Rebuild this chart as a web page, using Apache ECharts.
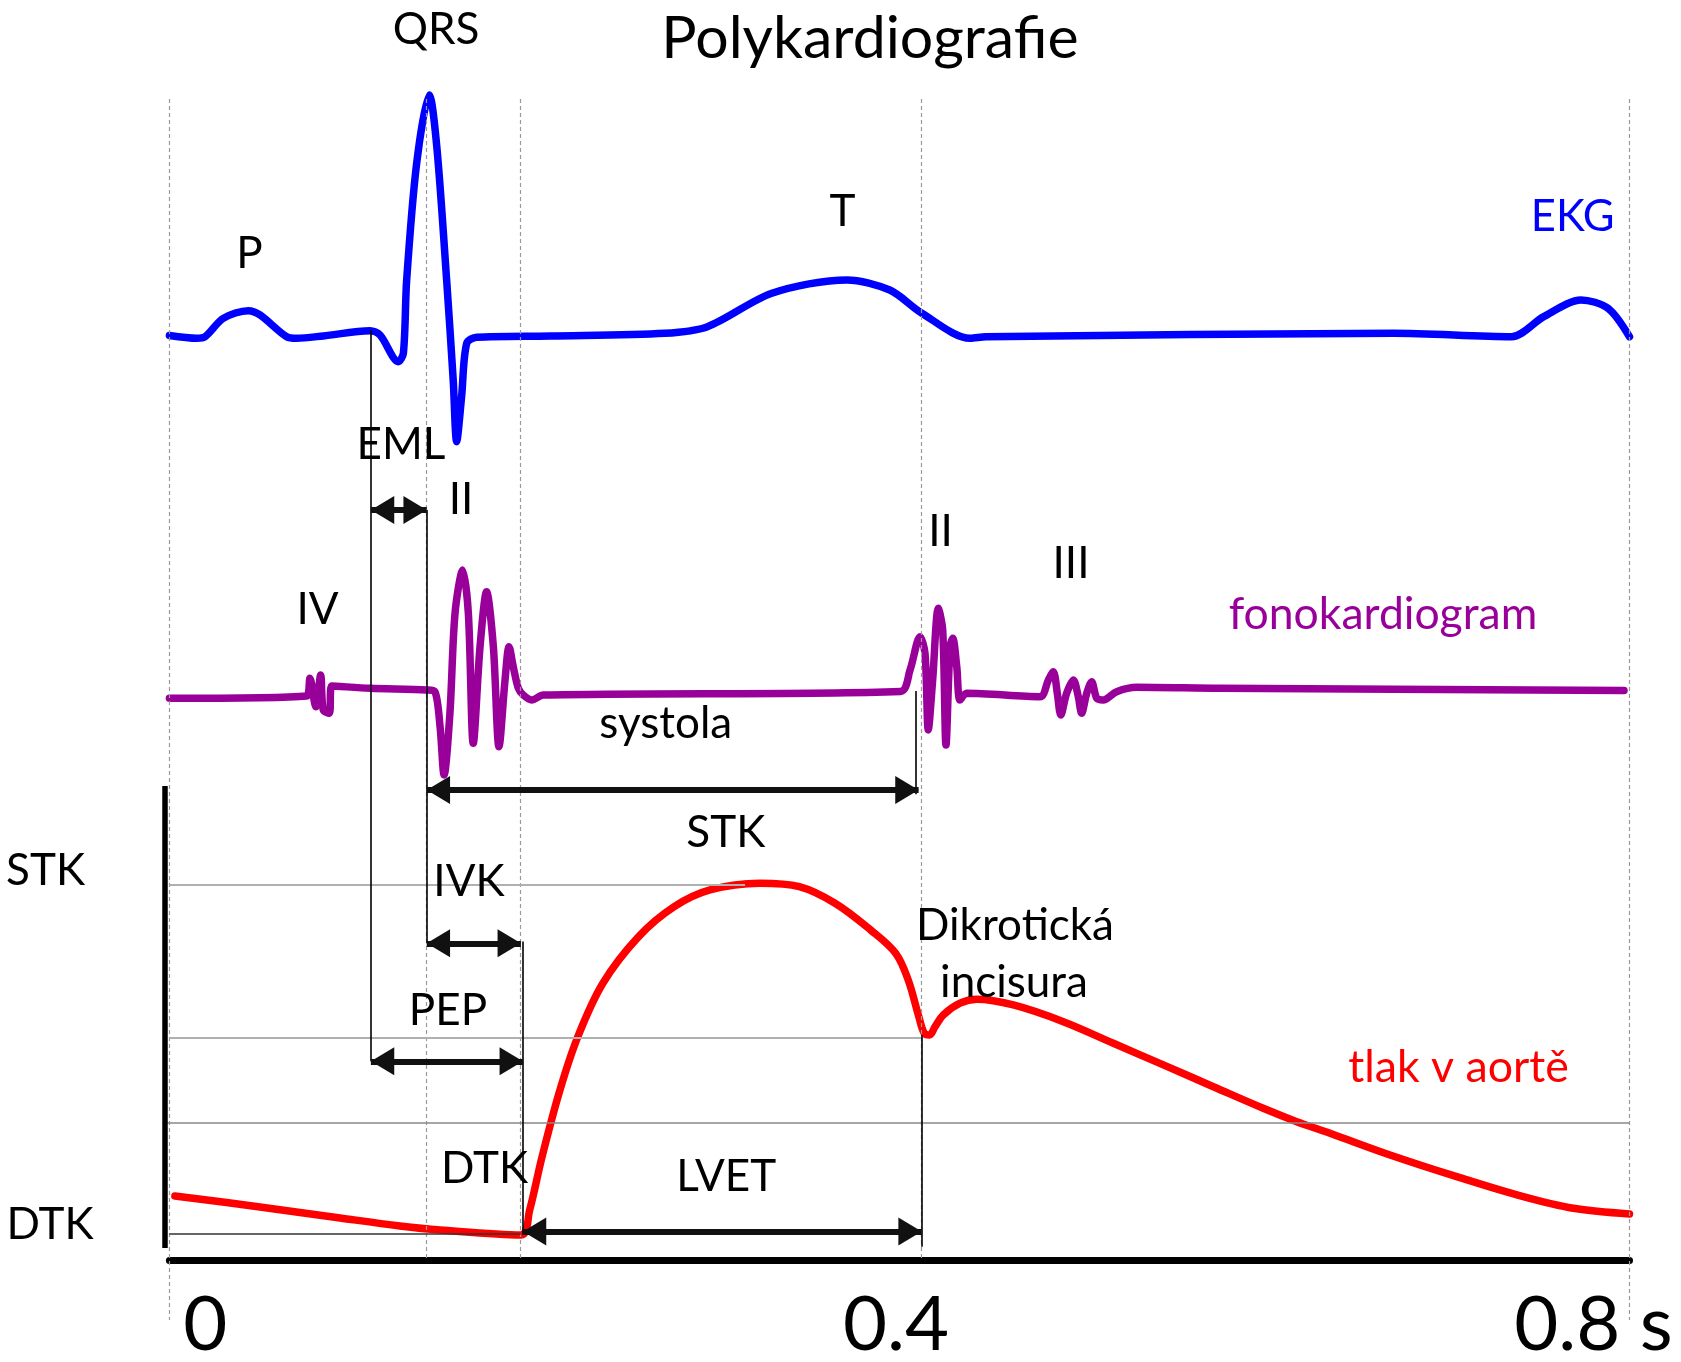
<!DOCTYPE html>
<html><head><meta charset="utf-8">
<style>html,body{margin:0;padding:0;background:#fff}#c{width:1681px;height:1362px}</style>
<script src="https://cdn.jsdelivr.net/npm/echarts@6/dist/echarts.min.js"></script>
</head><body><div id="c"></div>
<script>
// ---------- data (time in s) ----------
const xTicks = [0, 0.4, 0.8];
const xTickLabels = ['0', '0.4', '0.8 s'];

// EKG (mV, arbitrary scale)
const ekgT = [0,0.015,0.0195,0.0295,0.0432,0.0496,0.0643,0.0697,0.0843,0.1099,0.1154,0.1254,0.1282,0.1300,0.1355,0.1424,0.1465,0.1519,0.1555,0.1574,0.1601,0.1629,0.1684,0.2085,0.2713,0.2948,0.3301,0.3712,0.3947,0.4123,0.4387,0.4474,0.6708,0.7354,0.7530,0.7734,0.7882,0.8];
const ekgV = [0,-0.013,-0.006,0.080,0.116,0.096,-0.006,-0.013,-0.002,0.022,0.002,-0.122,-0.083,0.259,0.805,1.122,0.881,0.259,-0.208,-0.495,-0.285,-0.036,-0.008,-0.002,0.010,0.041,0.197,0.259,0.212,0.104,-0.013,-0.006,0.010,-0.006,0.088,0.166,0.127,-0.006];

// Phonocardiogram (arbitrary units)
const pcgT = [0,0.0752,0.0770,0.0802,0.0829,0.0843,0.0876,0.0889,0.1099,0.1410,0.1455,0.1483,0.1505,0.1537,0.1565,0.1607,0.1638,0.1665,0.1702,0.1738,0.1775,0.1806,0.1839,0.1861,0.1884,0.1912,0.1939,0.1985,0.2049,0.4006,0.4058,0.4113,0.4140,0.4158,0.4182,0.4213,0.4237,0.4255,0.4277,0.4292,0.4314,0.4332,0.4368,0.4770,0.4816,0.4843,0.4865,0.4884,0.4916,0.4953,0.4980,0.4998,0.5026,0.5053,0.5081,0.5117,0.5190,0.5300,0.5756,0.797];
const pcgV = [-0.068,-0.045,0.132,-0.152,0.165,-0.185,-0.218,0.055,0.032,0.015,-0.002,-0.352,-0.835,-0.218,0.782,1.215,0.782,-0.518,0.448,0.998,0.448,-0.552,0.115,0.448,0.248,0.032,-0.035,-0.085,-0.035,0.001,0.215,0.548,0.382,-0.385,0.115,0.832,0.615,-0.535,0.448,0.532,0.248,-0.085,-0.018,-0.052,0.115,0.198,-0.018,-0.235,-0.018,0.115,-0.052,-0.218,-0.018,0.098,-0.068,-0.085,-0.002,0.042,0.032,0.011];

// Aortic pressure (mmHg)
const aoT = [0.003,0.0496,0.0935,0.1263,0.1483,0.1926,0.1974,0.2042,0.2140,0.2238,0.2375,0.2571,0.2766,0.2962,0.3236,0.3451,0.3647,0.3842,0.3979,0.4048,0.4106,0.4136,0.4165,0.4195,0.4240,0.4332,0.4423,0.4624,0.4898,0.5172,0.5446,0.5720,0.5993,0.6177,0.6359,0.6688,0.7053,0.7418,0.7692,0.8];
const aoP = [84.35,83.09,81.83,80.92,80.46,79.89,82.75,88.84,96.48,102.58,108.69,114.02,117.45,119.36,120.13,119.74,117.84,114.78,112.12,109.06,104.86,102.96,102.77,103.72,105.06,106.40,106.85,106.20,104.29,101.82,99.34,96.85,94.38,92.85,91.52,89.04,86.56,84.27,82.94,82.29];

// Reference pressure levels (mmHg)
const levelSTK = 120, levelNotch = 102.5, levelMid = 92.7, levelDTK = 80;
// Event times (s)
const tQrsOnset = 0.1104, tS1 = 0.1410, tAoOpen = 0.1937, tS2 = 0.4088, tAoClose = 0.4122, tPeak = 0.3154;
const dashedTimes = [0, 0.1406, 0.1924, 0.4118, 0.8];

// ---------- layout / style ----------
const FONT = 'Lato';
const C_EKG = '#0000ff', C_PCG = '#990099', C_AO = '#ff0000';
// annotation y positions expressed on the pressure scale (shared layout axis)
const yTop = 209.87, yBottomOuter = 70.16, yBottomInner = 77.25;
const arrows = [
  [tQrsOnset, tS1, 162.84],   // EML
  [tS1, 0.4105, 130.80],      // systola
  [tS1, 0.1926, 113.25],      // IVK
  [tQrsOnset, tAoOpen, 99.76],// PEP
  [tAoOpen, tAoClose, 80.29]  // LVET
];
const verticals = [
  [tQrsOnset, 183.36, 99.76],
  [tS1, 162.84, 113.25],
  [tAoOpen, 113.45, 79.9],
  [tS2, 142.13, 130.31],
  [tAoClose, 102.77, 78.55]
];
const labels = [
  ['QRS', 436, 30, '#000', 44],
  ['P', 249.5, 254, '#000', 44],
  ['T', 842.6, 212, '#000', 44],
  ['EKG', 1572.7, 216.5, C_EKG, 43.5],
  ['EML', 401, 445, '#000', 44],
  ['II', 461, 500, '#000', 44],
  ['IV', 317.5, 610, '#000', 44],
  ['II', 940.5, 532, '#000', 44],
  ['III', 1071, 564, '#000', 44],
  ['fonokardiogram', 1383, 614.8, C_PCG, 44.5],
  ['systola', 665.7, 723.6, '#000', 44],
  ['STK', 725.8, 833, '#000', 44],
  ['STK', 45.6, 871, '#000', 44],
  ['IVK', 469, 881.7, '#000', 44],
  ['Dikrotická', 1015, 925.7, '#000', 44],
  ['incisura', 1014, 982.5, '#000', 44],
  ['PEP', 448, 1011, '#000', 44],
  ['tlak v aortě', 1458.5, 1067.2, C_AO, 44.7],
  ['DTK', 484.5, 1168.5, '#000', 44],
  ['LVET', 726.3, 1177, '#000', 44],
  ['DTK', 50, 1224.5, '#000', 44]
];

const zip = (a, b) => a.map((v, i) => [v, b[i]]);

const chart = echarts.init(document.getElementById('c'), null, {renderer: 'canvas'});

const seg = (x1, y1, x2, y2, style) => [
  {coord: [x1, y1], lineStyle: style},
  {coord: [x2, y2], lineStyle: style}
];

const bgLines = [];
dashedTimes.forEach((t, i) => {
  const bottom = (i === 0 || i === dashedTimes.length - 1) ? yBottomOuter : yBottomInner;
  bgLines.push(seg(t, yTop, t, bottom, {color: '#9a9a9a', width: 1.2, type: [4, 3]}));
});
bgLines.push(seg(0, levelSTK, tPeak, levelSTK, {color: '#b0b0b0', width: 2, type: 'solid'}));
bgLines.push(seg(0, levelNotch, 0.4118, levelNotch, {color: '#b0b0b0', width: 2, type: 'solid'}));
bgLines.push(seg(-0.002, levelMid, 0.8, levelMid, {color: '#888', width: 1.6, type: 'solid'}));
bgLines.push(seg(0, levelDTK, 0.1926, levelDTK, {color: '#333', width: 1.6, type: 'solid'}));

const blackLines = verticals.map(v => seg(v[0], v[1], v[0], v[2], {color: '#000', width: 1.6, type: 'solid'}));
blackLines.push(seg(-0.0024, 131.26, -0.0024, 78.40, {color: '#000', width: 5.5, type: 'solid'}));

const arrowLines = arrows.map(a => seg(a[0], a[2], a[1], a[2], {color: '#111', width: 6, type: 'solid'}));

// plot area geometry: t = 0 .. 0.8 spans x = 169.4 .. 1629.5 px
const plotLeft = 169.4, plotRight = 51.5, W = 1681, H = 1362, plotBottom = 102;
const sPerPx = 0.8 / (W - plotLeft - plotRight);
// overlay grid covers full canvas with the same data->pixel mapping
const ovXMin = -plotLeft * sPerPx, ovXMax = 0.8 + plotRight * sPerPx;
const pMin = 77.02, pMax = 221.19;
const pPerPx = (pMax - pMin) / (H - plotBottom);
const ovPMin = pMax - H * pPerPx;
// arrow head: triangle 24 wide x 20 long (pointing up), kept in aspect inside a square box
const HEAD_PATH = 'path://M0,20 L12,0 L24,20 Z';
const HEAD = 28;
const HEAD_LEN = HEAD * 20 / 24;

const option = {
  animation: false,
  backgroundColor: '#fff',
  title: {
    text: 'Polykardiografie', left: 870, top: 9.5, textAlign: 'center', padding: 0,
    textStyle: {fontFamily: FONT, fontSize: 59, fontWeight: 'normal', color: '#000', lineHeight: 59}
  },
  grid: [
    {left: plotLeft, right: plotRight, top: 0, bottom: plotBottom, containLabel: false, outerBoundsMode: 'none'},
    {left: 0, right: 0, top: 0, bottom: 0, containLabel: false, outerBoundsMode: 'none'}
  ],
  xAxis: [{
    gridIndex: 0, type: 'value', min: 0, max: 0.8, interval: 0.4,
    splitLine: {show: false}, axisTick: {show: false},
    axisLine: {show: true, onZero: false, lineStyle: {color: '#000', width: 7}},
    axisLabel: {
      margin: 27,
      formatter: v => {
        const i = xTicks.findIndex(t => Math.abs(t - v) < 1e-9);
        const s = i >= 0 ? xTickLabels[i] : '';
        return i === 0 ? '{l|' + s + '}' : (i === xTicks.length - 1 ? '{r|' + s + '}' : '{m|' + s + '}');
      },
      rich: {
        l: {fontFamily: FONT, fontSize: 76, lineHeight: 76, color: '#000', padding: [0, 0, 0, 72]},
        m: {fontFamily: FONT, fontSize: 76, lineHeight: 76, color: '#000', padding: [0, 7, 0, 0]},
        r: {fontFamily: FONT, fontSize: 76, lineHeight: 76, color: '#000', padding: [0, 72, 0, 0]}
      }
    }
  }, {
    gridIndex: 1, type: 'value', min: ovXMin, max: ovXMax, show: false, splitLine: {show: false}
  }],
  yAxis: [
    {gridIndex: 0, type: 'value', show: false, min: -4.312, max: 1.5648, splitLine: {show: false}},
    {gridIndex: 0, type: 'value', show: false, min: -5.685, max: 6.915, splitLine: {show: false}},
    {gridIndex: 0, type: 'value', show: false, min: pMin, max: pMax, splitLine: {show: false}},
    {gridIndex: 1, type: 'value', show: false, min: ovPMin, max: pMax, splitLine: {show: false}}
  ],
  series: [
    {type: 'line', name: 'bg', xAxisIndex: 1, yAxisIndex: 3, data: [], z: 1, silent: true,
     markLine: {silent: true, symbol: 'none', label: {show: false}, animation: false, data: bgLines}},
    {type: 'line', name: 'EKG', xAxisIndex: 0, yAxisIndex: 0, data: zip(ekgT, ekgV), showSymbol: false, symbol: 'none',
     smooth: 0.3, z: 3, lineStyle: {color: C_EKG, width: 7.5, cap: 'round', join: 'round'}},
    {type: 'line', name: 'fonokardiogram', xAxisIndex: 0, yAxisIndex: 1, data: zip(pcgT, pcgV), showSymbol: false, symbol: 'none',
     smooth: 0.3, z: 3, lineStyle: {color: C_PCG, width: 7.5, cap: 'round', join: 'round'}},
    {type: 'line', name: 'tlak v aortě', xAxisIndex: 0, yAxisIndex: 2, data: zip(aoT, aoP), showSymbol: false, symbol: 'none',
     smooth: 0.35, z: 3, lineStyle: {color: C_AO, width: 7.5, cap: 'round', join: 'round'}},
    {type: 'line', name: 'lines', xAxisIndex: 1, yAxisIndex: 3, data: [], z: 4, silent: true,
     markLine: {silent: true, symbol: 'none', label: {show: false}, animation: false, data: blackLines}},
    {type: 'line', name: 'arrows', xAxisIndex: 1, yAxisIndex: 3, data: [], z: 5, silent: true,
     markLine: {silent: true, symbol: [HEAD_PATH, HEAD_PATH], symbolSize: [HEAD, HEAD], symbolKeepAspect: true,
      symbolOffset: [[0, HEAD_LEN / 2], [0, HEAD_LEN / 2]],
      label: {show: false}, animation: false, itemStyle: {color: '#111'}, data: arrowLines}}
  ],
  graphic: labels.map(l => ({
    type: 'text', x: l[1], y: l[2], z: 10, silent: true,
    style: {text: l[0], fill: l[3], font: l[4] + 'px ' + FONT, align: 'center', verticalAlign: 'middle',
            textAlign: 'center', textVerticalAlign: 'middle'}
  }))
};
chart.setOption(option);
</script></body></html>
